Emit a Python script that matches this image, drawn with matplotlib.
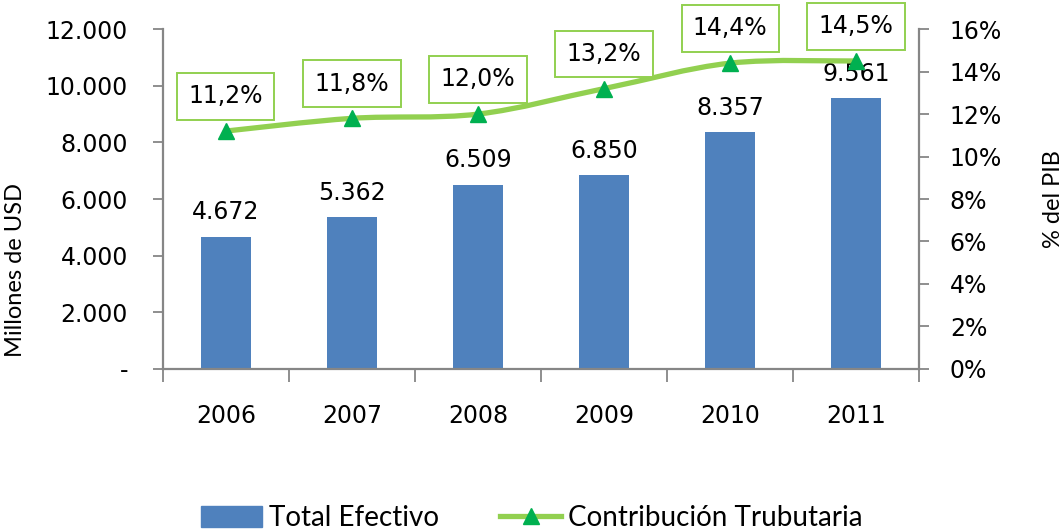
import matplotlib
matplotlib.use("Agg")
import matplotlib.pyplot as plt
import numpy as np
from matplotlib.path import Path
from matplotlib.patches import PathPatch, Patch
from matplotlib.lines import Line2D

years = ["2006", "2007", "2008", "2009", "2010", "2011"]
total_efectivo = [4672, 5362, 6509, 6850, 8357, 9561]
contribucion = [11.2, 11.8, 12.0, 13.2, 14.4, 14.5]
bar_labels = ["4.672", "5.362", "6.509", "6.850", "8.357", "9.561"]
pct_labels = ["11,2%", "11,8%", "12,0%", "13,2%", "14,4%", "14,5%"]
left_ticks = [0, 2000, 4000, 6000, 8000, 10000, 12000]
left_ticklabels = ["-", "2.000", "4.000", "6.000", "8.000", "10.000", "12.000"]
right_ticks = [0, 2, 4, 6, 8, 10, 12, 14, 16]
right_ticklabels = ["0%", "2%", "4%", "6%", "8%", "10%", "12%", "14%", "16%"]

BLUE = "#4F81BD"
LGREEN = "#92D050"
DGREEN = "#00B050"
GREY = "#868686"
NUMFONT = "DejaVu Sans"
TITLEFONT = "Lato"
NUMSIZE = 17

fig = plt.figure(figsize=(10.64, 5.30), dpi=100)
ax = fig.add_axes([0.153, 0.304, 0.711, 0.641])
ax2 = ax.twinx()

x = np.arange(len(years))
ax.bar(x, total_efectivo, width=0.4, color=BLUE, zorder=2)
ax.set_xlim(-0.5, len(years) - 0.5)
ax.set_ylim(0, 12000)
ax.set_yticks(left_ticks)
ax.set_yticklabels(left_ticklabels, fontsize=NUMSIZE, family=NUMFONT)
ax.set_xticks(x)
ax.set_xticklabels(years, fontsize=NUMSIZE, family=NUMFONT)
ax.set_xticks(np.arange(len(years) + 1) - 0.5, minor=True)
ax.tick_params(axis="x", which="major", length=0, pad=25)
ax.tick_params(axis="x", which="minor", length=9, direction="out", color=GREY, width=1.3)
ax.tick_params(axis="y", length=7, direction="out", color=GREY, width=1.3, pad=18)
ax.set_ylabel("Millones de USD", fontsize=17, family=TITLEFONT)
ax.yaxis.set_label_coords(-0.181, 0.29)

for s in ["top", "right"]:
    ax.spines[s].set_visible(False)
for s in ["left", "bottom"]:
    ax.spines[s].set_color(GREY)
    ax.spines[s].set_linewidth(1.6)

for xi, v, lab in zip(x, total_efectivo, bar_labels):
    ax.annotate(lab, (xi, v), xytext=(0, 12.5), textcoords="offset points",
                ha="center", va="baseline", fontsize=NUMSIZE, family=NUMFONT, zorder=5)

# secondary axis
ax2.set_ylim(0, 16)
ax2.set_yticks(right_ticks)
ax2.set_yticklabels(right_ticklabels, fontsize=NUMSIZE, family=NUMFONT)
ax2.tick_params(axis="y", length=7, direction="out", color=GREY, width=1.3, pad=15)
ax2.set_ylabel("% del PIB", fontsize=17, family=TITLEFONT, rotation=90)
ax2.yaxis.set_label_coords(1.163, 0.5)
for s in ["top", "left", "bottom"]:
    ax2.spines[s].set_visible(False)
ax2.spines["right"].set_color(GREY)
ax2.spines["right"].set_linewidth(1.6)

# smoothed line (Catmull-Rom as cubic Bezier)
px = np.array(x, dtype=float)
py = np.array(contribucion, dtype=float)
verts = [(px[0], py[0])]
codes = [Path.MOVETO]
n = len(px)
for i in range(n - 1):
    p0 = (px[i - 1], py[i - 1]) if i > 0 else (px[i], py[i])
    p1 = (px[i], py[i])
    p2 = (px[i + 1], py[i + 1])
    p3 = (px[i + 2], py[i + 2]) if i + 2 < n else (px[i + 1], py[i + 1])
    t = 1 / 6.0
    c1 = (p1[0] + (p2[0] - p0[0]) * t, p1[1] + (p2[1] - p0[1]) * t)
    c2 = (p2[0] - (p3[0] - p1[0]) * t, p2[1] - (p3[1] - p1[1]) * t)
    verts += [c1, c2, p2]
    codes += [Path.CURVE4] * 3
patch = PathPatch(Path(verts, codes), facecolor="none", edgecolor=LGREEN, lw=3.8, zorder=3,
                  capstyle="round")
ax2.add_patch(patch)
ax2.plot(px, py, linestyle="none", marker="^", markersize=12, color=DGREEN,
         markeredgecolor=DGREEN, zorder=4)

for xi, v, lab in zip(px, py, pct_labels):
    ax2.annotate(lab, (xi, v), xytext=(0, 25), textcoords="offset points",
                 ha="center", va="center", fontsize=NUMSIZE, family=NUMFONT, zorder=6,
                 bbox=dict(boxstyle="square,pad=0.48", fc="white", ec=LGREEN, lw=1.4))

handles = [Patch(facecolor=BLUE, edgecolor=BLUE),
           Line2D([0], [0], color=LGREEN, lw=3.8, marker="^", markersize=12,
                  markerfacecolor=DGREEN, markeredgecolor=DGREEN)]
fig.legend(handles, ["Total Efectivo", "Contribución Trubutaria"], loc="center",
           bbox_to_anchor=(0.5, 0.022), ncol=2, frameon=False,
           prop={"family": TITLEFONT, "size": 20}, handlelength=2.2, handleheight=0.75,
           columnspacing=2.2, handletextpad=0.25)

fig.savefig("out.png", dpi=100)
